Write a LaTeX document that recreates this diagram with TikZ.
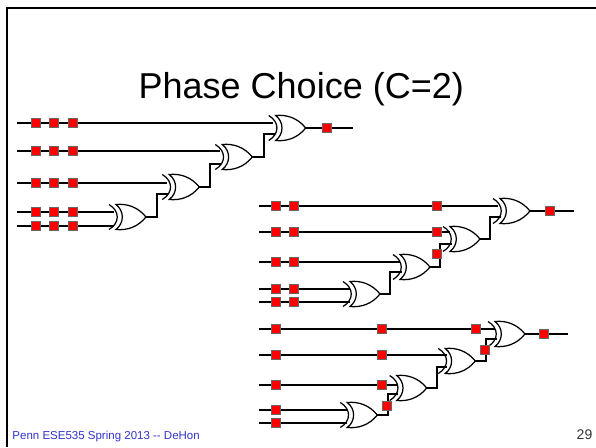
\documentclass[tikz,border=0pt]{standalone}
\usepackage{fontspec}
\setmainfont{Liberation Sans}
\usetikzlibrary{calc}
\definecolor{footblue}{HTML}{3333CC}
\tikzset{
  wire/.style={line width=1.7pt,black},
  reg/.style={draw=black!60,line width=0.8pt,fill=red,minimum size=9pt,inner sep=0pt,outer sep=0pt},
  frameline/.style={line width=2pt,black},
  gateline/.style={line width=1.25pt,black,line join=miter},
}
% \xorgate{name}{x}{y}: output tip at (x,y)
\newcommand{\xorgate}[3]{%
  \coordinate (#1-out) at (#2,#3);
  \begin{scope}[shift={(#1-out)}]
    \draw[gateline,fill=white] (-30,-12.5) .. controls (-21.6,-6) and (-21.6,6) .. (-30,12.5)
      .. controls (-19,13.6) and (-8,10) .. (0,0)
      .. controls (-8,-10) and (-19,-13.6) .. (-30,-12.5) -- cycle;
    \draw[gateline] (-37,-12.5) .. controls (-26,-6) and (-26,6) .. (-37,12.5);
  \end{scope}
}
\begin{document}
\begin{tikzpicture}[x=1pt,y=-1pt]
\useasboundingbox (0,0) rectangle (596,447);
\fill[white] (0,0) rectangle (596,447);
\coordinate (fa) at (7,447);
\coordinate (fb) at (7,7.5);
\coordinate (fc) at (596,7.5);
\draw[frameline] (fa) -- (fb) -- (fc);
\node[font=\fontsize{36}{40}\selectfont,anchor=base west,inner sep=0pt] (title) at (138.5,98.3) {Phase Choice (C=2)};
\node[font=\fontsize{11.5}{13}\selectfont,text=footblue,anchor=base west,inner sep=0pt] (foot) at (12.3,439.3) {Penn ESE535 Spring 2013 {-}{-} DeHon};
\node[font=\fontsize{14}{16}\selectfont,text=black!80,anchor=base east,inner sep=0pt] (page) at (592.5,439) {29};

% --- left circuit
\foreach \n/\y in {a1/123,a2/151,a3/183,a4/212,a5/226}{\coordinate (\n) at (17,\y);}
\coordinate (a-o) at (353,128);
\draw[wire] (a1) -- (273,123);
\draw[wire] (a2) -- (220,151);
\draw[wire] (a3) -- (167,183);
\draw[wire] (a4) -- (114,212);
\draw[wire] (a5) -- (114,226);
\draw[wire] (305.7,128) -- (a-o);
\draw[wire] (146,217) -| (157,194) -- (168,194);
\draw[wire] (199.3,187) -| (210,164) -- (221,164);
\draw[wire] (252.3,157) -| (264,134) -- (275,134);
\xorgate{ag1}{305.7}{128}
\xorgate{ag2}{252.3}{157}
\xorgate{ag3}{199.3}{187}
\xorgate{ag4}{146}{217}
\foreach \y in {123,151,183,212,226}{
  \foreach \x in {35.7,54,72.7}{\node[reg] (r\x-\y) at (\x,\y) {};}
}
\node[reg] (ra-o) at (327.3,128) {};

% --- right upper circuit
\foreach \n/\y in {b1/206,b2/232,b3/262,b4/289,b5/302}{\coordinate (\n) at (259,\y);}
\coordinate (b-o) at (574,211);
\draw[wire] (b1) -- (498,206);
\draw[wire] (b2) -- (450,232);
\draw[wire] (b3) -- (400,262);
\draw[wire] (b4) -- (350,289);
\draw[wire] (b5) -- (350,302);
\draw[wire] (530,211) -- (b-o);
\draw[wire] (380,294) -| (390,272) -- (402,272);
\draw[wire] (430,267) -| (440,244) -- (452,244);
\draw[wire] (480,239) -| (490,217) -- (501,217);
\xorgate{bg1}{530}{211}
\xorgate{bg2}{480}{239}
\xorgate{bg3}{430}{267}
\xorgate{bg4}{380}{294}
\foreach \y in {206,232,262,289,302}{
  \foreach \x in {276.3,293.7}{\node[reg] (s\x-\y) at (\x,\y) {};}
}
\node[reg] (sa) at (437,206) {};
\node[reg] (sb) at (437,232) {};
\node[reg] (sc) at (437,254) {};
\node[reg] (sd) at (550,211) {};

% --- right lower circuit
\foreach \n/\y in {c1/329,c2/355,c3/385,c4/410,c5/423}{\coordinate (\n) at (259,\y);}
\coordinate (c-o) at (568,334);
\draw[wire] (c1) -- (495,329);
\draw[wire] (c2) -- (447,355);
\draw[wire] (c3) -- (398,385);
\draw[wire] (c4) -- (347,410);
\draw[wire] (c5) -- (347,423);
\draw[wire] (525,334) -- (c-o);
\draw[wire] (377.3,415) -| (388,394) -- (398,394);
\draw[wire] (426.7,388) -| (437,367) -- (447,367);
\draw[wire] (475.3,361) -| (486,339) -- (497,339);
\xorgate{cg1}{525}{334}
\xorgate{cg2}{475.3}{361}
\xorgate{cg3}{426.7}{388}
\xorgate{cg4}{377.3}{415}
\foreach \y in {329,355,385,410,423}{\node[reg] (t\y) at (276,\y) {};}
\node[reg] (ta) at (382.3,329) {};
\node[reg] (tb) at (382.3,355) {};
\node[reg] (tc) at (382.3,385) {};
\node[reg] (td) at (476.3,329) {};
\node[reg] (te) at (484.7,350.3) {};
\node[reg] (tf) at (386.7,406) {};
\node[reg] (tg) at (544.3,334) {};
\end{tikzpicture}
\end{document}
